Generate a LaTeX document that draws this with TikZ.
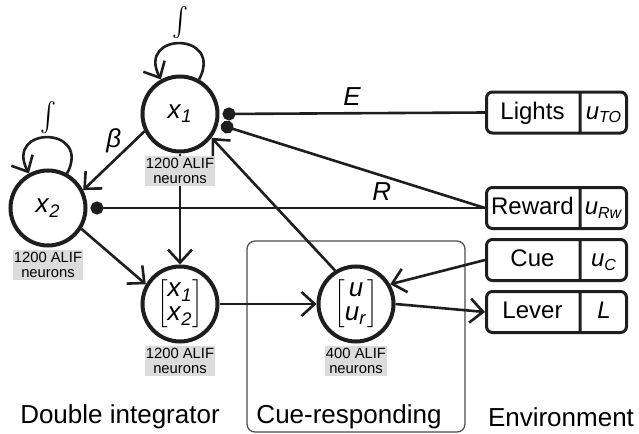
\documentclass[tikz,border=0pt]{standalone}
\usepackage{graphicx}
\usepackage{fontspec}
\setmainfont{Liberation Sans}
\usetikzlibrary{positioning,arrows.meta,shapes.multipart}
\definecolor{nnInk}{RGB}{30,30,30}
\definecolor{nnGray}{RGB}{220,220,220}
\newcommand{\envpart}[2]{\makebox[#1]{\rule[-7pt]{0pt}{20.5pt}#2}}

\begin{document}
\begin{tikzpicture}[x=0.5pt,y=-0.5pt,
  pop/.style={circle, draw=nnInk, line width=2pt, minimum size=37.5pt, inner sep=0pt, font=\fontsize{13}{14}\selectfont},
  cnt/.style={fill=nnGray, inner xsep=0.5pt, inner ysep=1pt, align=center, font=\fontsize{7.4}{7.6}\selectfont},
  envbox/.style={rectangle split, rectangle split horizontal, rectangle split parts=2, draw=nnInk, line width=1.5pt, rounded corners=3pt, inner xsep=0pt, inner ysep=0pt, font=\fontsize{12}{13}\selectfont},
  arr/.style={draw=nnInk, line width=1.3pt, -{Straight Barb[length=6.5pt,width=12pt]}},
  inh/.style={draw=nnInk, line width=1.3pt, shorten >=1.5pt, -{Circle[length=6.5pt]}},
  grp/.style={draw=nnInk!80, line width=0.6pt, rounded corners=4pt},
  lbl/.style={font=\fontsize{13}{14}\selectfont},
  intg/.style={inner sep=0pt}]
  \useasboundingbox (0,0) rectangle (639,434);

  % Cue-responding frame
  \draw[grp] (247,241) rectangle (465,432);

  % Populations
  \node[pop] (x1) at (180,114) {\textit{x}\textsubscript{\textit{1}}};
  \node[pop] (x2) at (48,208) {\textit{x}\textsubscript{\textit{2}}};
  \node[pop] (vec) at (180,304) {\fontsize{13}{12}\selectfont$\left[\begin{tabular}{@{}c@{}}\textit{x}\textsubscript{\textit{1}}\\\textit{x}\textsubscript{\textit{2}}\end{tabular}\right]$};
  \node[pop] (u) at (356,304) {\fontsize{13}{12}\selectfont$\left[\begin{tabular}{@{}c@{}}\textit{u}\\\textit{u}\textsubscript{\textit{r}}\end{tabular}\right]$};

  % Integrators
  \node[intg] (x1int) at (180,23) {\scalebox{1.2}[1.45]{$\int$}};
  \node[intg] (x2int) at (48,118) {\scalebox{1.2}[1.45]{$\int$}};

  % Environment
  \node[envbox] (lights) at (556.5,112.5) {\envpart{46pt}{Lights}\nodepart{two}\envpart{22.5pt}{\textit{u}\textsubscript{\textit{TO}}}};
  \node[envbox] (reward) at (556.5,208) {\envpart{46pt}{Reward}\nodepart{two}\envpart{22.5pt}{\textit{u}\textsubscript{\textit{Rw}}}};
  \node[envbox, below=4pt of reward] (cue) {\envpart{46pt}{Cue}\nodepart{two}\envpart{22.5pt}{\textit{u}\textsubscript{\textit{C}}}};
  \node[envbox, below=4pt of cue] (lever) {\envpart{46pt}{Lever}\nodepart{two}\envpart{22.5pt}{\textit{L}}};

  % Self-loops
  \draw[arr] (x1.61) .. controls +(25,-48) and +(-25,-48) .. (x1.119);
  \draw[arr] (x2.61) .. controls +(25,-48) and +(-25,-48) .. (x2.119);

  % Connections
  \draw[arr] (x1.206) -- node[lbl, above] {\textit{β}} (x2.27);
  \draw[arr] (x1) -- (vec);
  \draw[arr] (x2.-32) -- (vec.150);
  \draw[arr] (vec) -- (u);
  \draw[arr] (u.122) -- (x1.-37);
  \draw[arr] (cue.west) -- (u.30);
  \draw[arr] (u.east) -- (lever.west);

  % Inhibitory inputs
  \draw[inh] (lights.west) -- node[lbl, above] {\textit{E}} (x1.east);
  \draw[inh] (reward.west) -- (x1.-15);
  \draw[inh] (reward.west) -- node[lbl, pos=0.26, above] {\textit{R}} (x2.east);

  % Neuron counts
  \node[cnt, below=1pt of x1] (x1cnt) {1200 ALIF\\neurons};
  \node[cnt, below=1pt of x2] (x2cnt) {1200 ALIF\\neurons};
  \node[cnt, below=1pt of vec] (veccnt) {1200 ALIF\\neurons};
  \node[cnt, below=1pt of u] (ucnt) {400 ALIF\\neurons};

  % Group titles
  \node[lbl] (dbl) at (120,417) {Double integrator};
  \node[lbl] (cuer) at (349,417) {Cue-responding};
  \node[lbl] (env) at (561,417) {Environment};
\end{tikzpicture}
\end{document}
